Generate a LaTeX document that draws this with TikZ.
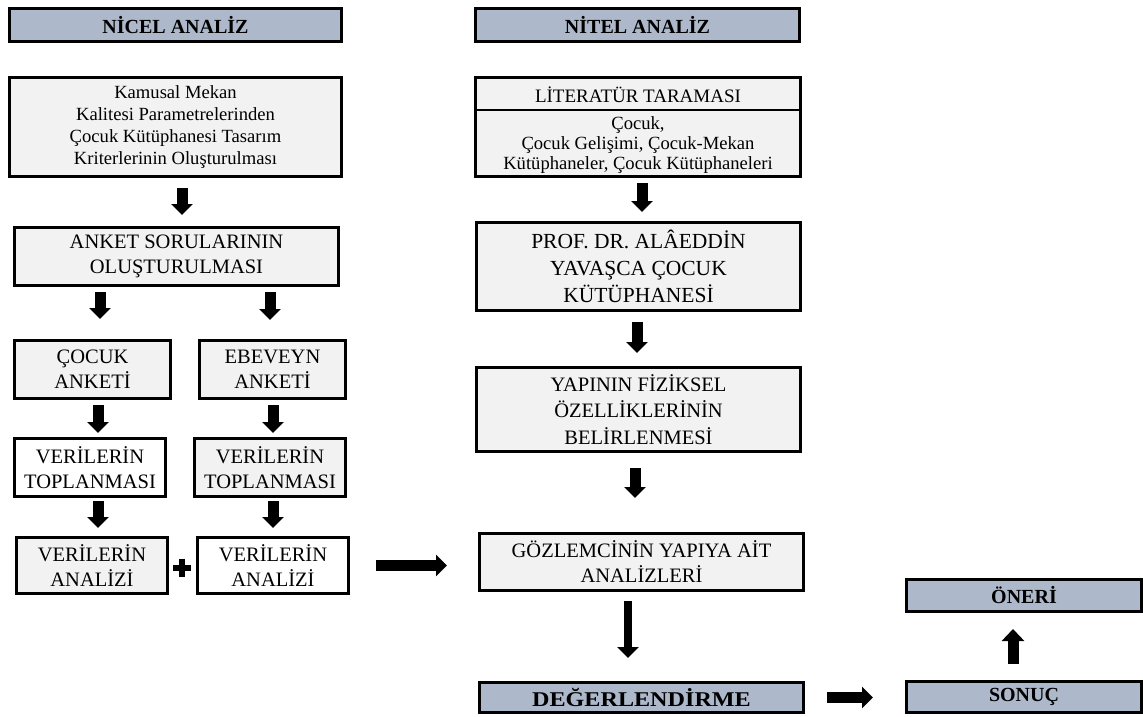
\documentclass[tikz,border=0pt]{standalone}
\usepackage{fontspec}
\setmainfont{Liberation Serif}
\usepackage{graphicx}
\usepackage{tikz}
\usetikzlibrary{arrows.meta}
\definecolor{headfill}{HTML}{ADB9CA}
\definecolor{boxfill}{HTML}{F2F2F2}

\begin{document}
\begin{tikzpicture}[x=1pt, y=-1pt,
    head/.style={rectangle, draw=black, fill=headfill, line width=3pt, inner sep=0pt, font=\fontsize{20}{24}\selectfont\bfseries},
    stepbox/.style={rectangle, draw=black, fill=boxfill, line width=3pt, inner sep=0pt, align=center, font=\fontsize{20.5}{25}\selectfont},
    whitebox/.style={stepbox, fill=white},
    bigarrow/.style={line width=11pt, -{Triangle[length=11pt, width=21pt]}}
]
\useasboundingbox (0,0) rectangle (1143,716);

% Left column: quantitative part
\node[head, minimum width=332pt, minimum height=33pt] (nicel) at (175.5, 25) {NİCEL ANALİZ};
\node[stepbox, minimum width=332pt, minimum height=99pt, font=\fontsize{18.6}{22.3}\selectfont] (kamusal) at (175.5, 127)
    {Kamusal Mekan\\Kalitesi Parametrelerinden\\Çocuk Kütüphanesi Tasarım\\Kriterlerinin Oluşturulması};
\node[stepbox, minimum width=324pt, minimum height=58pt] (anket) at (176.5, 256.5) {ANKET SORULARININ\\OLUŞTURULMASI};

\node[stepbox, minimum width=156pt, minimum height=58pt] (cocuk) at (92.5, 369.5) {ÇOCUK\\ANKETİ};
\node[stepbox, minimum width=146pt, minimum height=58pt] (ebeveyn) at (272.5, 369.5) {EBEVEYN\\ANKETİ};

\node[whitebox, minimum width=151pt, minimum height=58pt] (toplamaA) at (90, 467.5) {VERİLERİN\\TOPLANMASI};
\node[stepbox, minimum width=151pt, minimum height=58pt] (toplamaB) at (270, 467.5) {VERİLERİN\\TOPLANMASI};

\node[stepbox, minimum width=151pt, minimum height=56pt] (analizA) at (92, 565.5) {VERİLERİN\\ANALİZİ};
\node[whitebox, minimum width=151pt, minimum height=56pt] (analizB) at (273, 565.5) {VERİLERİN\\ANALİZİ};

% Plus sign between the two analyses
\draw[line width=6pt] (173, 568) -- (191, 568) (182, 558.5) -- (182, 576.5);

% Right column: qualitative part
\node[head, minimum width=324pt, minimum height=33pt] (nitel) at (637.5, 25) {NİTEL ANALİZ};
\node[stepbox, minimum width=325pt, minimum height=99pt] (literatur) at (638, 127) {};
\draw[line width=2pt] (literatur.west |- 0,110) -- (literatur.east |- 0,110);
\node[font=\fontsize{19}{24}\selectfont, inner sep=0pt] (littitle) at (638, 94.5) {LİTERATÜR TARAMASI};
\node[align=center, font=\fontsize{18.6}{20.2}\selectfont, inner sep=0pt] (litbody) at (638, 145)
    {Çocuk,\\Çocuk Gelişimi, Çocuk-Mekan\\Kütüphaneler, Çocuk Kütüphaneleri};

\node[stepbox, minimum width=324pt, minimum height=88pt, font=\fontsize{21.5}{26.7}\selectfont] (prof) at (638.5, 266.5)
    {PROF. DR. ALÂEDDİN\\YAVAŞCA ÇOCUK\\KÜTÜPHANESİ};
\node[stepbox, minimum width=324pt, minimum height=84pt, font=\fontsize{20.5}{26.5}\selectfont] (yapinin) at (638.5, 409.5)
    {YAPININ FİZİKSEL\\ÖZELLİKLERİNİN\\BELİRLENMESİ};
\node[stepbox, minimum width=324pt, minimum height=57pt] (gozlem) at (641.5, 562) {GÖZLEMCİNİN YAPIYA AİT\\ANALİZLERİ};

% Evaluation, result, suggestion
\node[head, minimum width=324pt, minimum height=30pt, font=\fontsize{21}{24}\selectfont\bfseries] (deger) at (641.5, 697.5)
    {\scalebox{1.15}[1]{DEĞERLENDİRME}};
\node[head, minimum width=235pt, minimum height=31pt] (sonuc) at (1024, 697) {SONUÇ};
\node[head, minimum width=235pt, minimum height=32pt] (oneri) at (1024, 595.5) {ÖNERİ};

% Block arrows, left column
\draw[bigarrow, shorten <=10pt, shorten >=11pt] ([xshift=6.5pt]kamusal.south) coordinate (k1) -- (k1 |- anket.north);
\draw[bigarrow, shorten <=5pt, shorten >=20pt] ([xshift=-76.5pt]anket.south) coordinate (k2) -- (k2 |- cocuk.north);
\draw[bigarrow, shorten <=5pt, shorten >=19pt] ([xshift=93.5pt]anket.south) coordinate (k3) -- (k3 |- ebeveyn.north);
\draw[bigarrow, shorten <=5pt, shorten >=4pt] ([xshift=5.5pt]cocuk.south) coordinate (k4) -- (k4 |- toplamaA.north);
\draw[bigarrow, shorten <=5pt, shorten >=4pt] ([xshift=0.5pt]ebeveyn.south) coordinate (k5) -- (k5 |- toplamaB.north);
\draw[bigarrow, shorten <=3pt, shorten >=8pt] ([xshift=8pt]toplamaA.south) coordinate (k6) -- (k6 |- analizA.north);
\draw[bigarrow, shorten <=3pt, shorten >=8pt] ([xshift=3pt]toplamaB.south) coordinate (k7) -- (k7 |- analizB.north);

% Link between the two columns
\draw[bigarrow, shorten <=26pt, shorten >=31pt] (analizB.east) -- (analizB.east -| gozlem.west);

% Block arrows, right column
\draw[bigarrow, shorten <=5pt, shorten >=9pt] ([xshift=4pt]literatur.south) coordinate (r1) -- (r1 |- prof.north);
\draw[bigarrow, shorten <=10pt, shorten >=13pt] ([xshift=-1.5pt]prof.south) coordinate (r2) -- (r2 |- yapinin.north);
\draw[bigarrow, shorten <=15pt, shorten >=34pt] ([xshift=-3.5pt]yapinin.south) coordinate (r3) -- (r3 |- gozlem.north);
\draw[bigarrow, line width=8pt, shorten <=9pt, shorten >=23pt] ([xshift=-13.5pt]gozlem.south) coordinate (r4) -- (r4 |- deger.north);
\draw[bigarrow, shorten <=22pt, shorten >=32pt] (deger.east) -- (deger.east -| sonuc.west);
\draw[bigarrow, -{Triangle[length=12pt, width=22pt]}, shorten <=16pt, shorten >=16pt] ([xshift=-11pt]sonuc.north) coordinate (r5) -- (r5 |- oneri.south);

\end{tikzpicture}
\end{document}
